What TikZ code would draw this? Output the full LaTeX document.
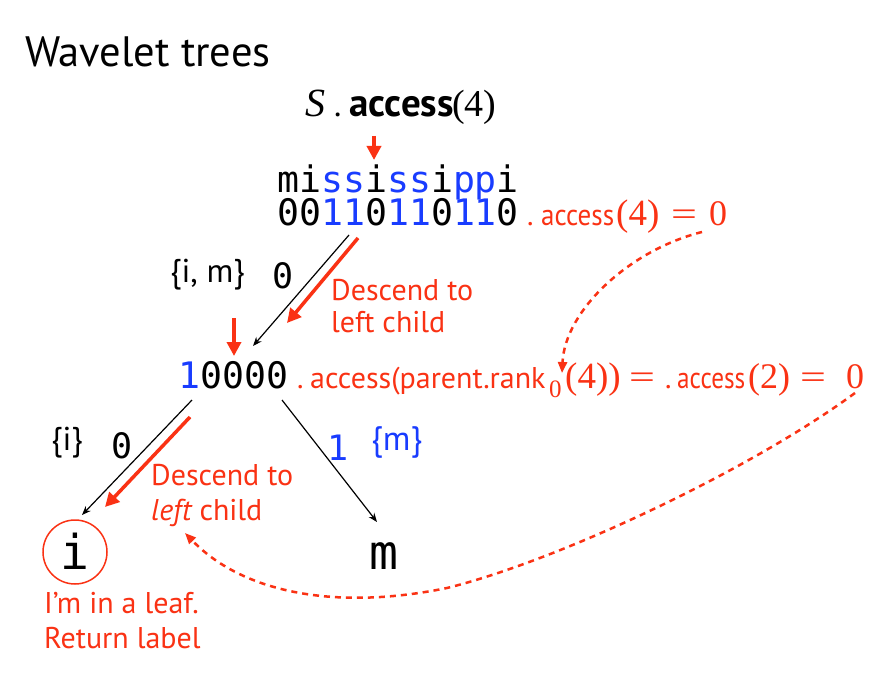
\documentclass[tikz,border=0pt]{standalone}
\usepackage{fontspec}
\setmainfont{PT Sans}
\newfontfamily\mono{DejaVu Sans Mono}
\newfontfamily\ser{Liberation Serif}
\usetikzlibrary{arrows.meta}
\definecolor{myred}{RGB}{250,50,20}
\definecolor{myblue}{RGB}{25,60,255}
\newcommand\myfs[1]{\fontsize{#1}{#1}\selectfont}
\newcommand\bl[1]{\textcolor{myblue}{#1}}
\newcommand\wideeq{\scalebox{1.35}[1]{=}}
\newcommand\accw[1]{\scalebox{#1}[1]{access}}
\begin{document}
\begin{tikzpicture}[x=1pt,y=-1pt,
  txt/.style={inner sep=0pt, anchor=base west},
  rtxt/.style={txt, text=myred},
  edge/.style={line width=1.2pt, -{Stealth[length=9pt,width=7pt]}},
  redarr/.style={myred, line width=3.5pt, -{Triangle[length=14pt,width=14pt]}},
  reddash/.style={myred, line width=2.5pt, dash pattern=on 6pt off 5pt, -{Triangle[length=11pt,width=9pt]}}]
\useasboundingbox[fill=white] (0,0) rectangle (877,679);

% title
\node[txt] (title) at (25,67) {\myfs{42.5}Wavelet trees};

% query  S . access(4)
\node[txt] (qS) at (305,117) {\myfs{40}\ser\itshape S};
\node[txt] (qdot) at (334,117) {\myfs{34}.};
\node[txt] (qacc) at (349,117) {\myfs{39}\bfseries access};
\node[txt] (qarg) at (452,117) {\myfs{38}\ser(4)};

% root
\node[txt] (rootstr) at (277,192) {\myfs{36.5}\mono mi\bl{ss}i\bl{ss}i\bl{pp}i};
\node[txt] (rootbits) at (277,225) {\myfs{36.5}\mono 00\bl{11}0\bl{11}0\bl{11}0};
% annotation 1
\node[rtxt] (a1dot) at (527,225) {\myfs{30}.};
\node[rtxt] (a1acc) at (541,225) {\myfs{30}\accw{0.9}};
\node[rtxt] (a1arg) at (616,225) {\myfs{37}\ser(4)};
\node[rtxt] (a1eq) at (671,225) {\myfs{34}\ser\wideeq};
\node[rtxt] (a1val) at (709,225) {\myfs{36}\ser 0};

% left internal node
\node[txt] (midbits) at (178,388) {\myfs{36.5}\mono\bl{1}0000};
% annotation 2
\node[rtxt] (a2dot) at (297,388) {\myfs{30}.};
\node[rtxt] (a2acc) at (310,388) {\myfs{30}access(parent.rank};
\node[rtxt] (a2sub) at (549,397) {\myfs{25}\ser 0};
\node[rtxt] (a2arg) at (565,388) {\myfs{37}\ser(4))};
\node[rtxt] (a2eq1) at (629,388) {\myfs{34}\ser\wideeq};
\node[rtxt] (a2dot2) at (665,388) {\myfs{30}.};
\node[rtxt] (a2acc2) at (677,388) {\myfs{30}\accw{0.84}};
\node[rtxt] (a2arg2) at (748,388) {\myfs{36}\ser(2)};
\node[rtxt] (a2eq2) at (800,388) {\myfs{34}\ser\wideeq};
\node[rtxt] (a2val) at (846,388) {\myfs{36}\ser 0};

% labels
\node[txt] (lab1) at (170,282) {\myfs{33}\{i, m\}};
\node[txt] (zero1) at (272,288) {\myfs{35}\mono 0};
\node[rtxt] (desc1) at (331,300) {\myfs{30}Descend to};
\node[rtxt] (desc1b) at (331,332) {\myfs{30}left child};

\node[txt] (lab2) at (51,450) {\myfs{33}\{i\}};
\node[txt] (zero2) at (111,458) {\myfs{35}\mono 0};
\node[txt] (one2) at (327,460) {\myfs{35}\mono\bl{1}};
\node[txt] (lab3) at (371,450) {\myfs{34}\bl{\{m\}}};
\node[rtxt] (desc2) at (151,485) {\myfs{30}Descend to};
\node[rtxt] (desc2b) at (151,520) {\myfs{30}\itshape left\upshape\ child};

% leaves
\node[circle, draw=myred, line width=1.5pt, minimum size=64pt, inner sep=0pt] (leafi) at (75,552) {};
\node[inner sep=0pt, anchor=base] (leafitxt) at (75,569) {\myfs{48}\mono i};
\node[txt] (leafm) at (369,569) {\myfs{48}\mono m};
\node[rtxt] (leafnote1) at (44,613) {\myfs{30}I’m in a leaf.};
\node[rtxt] (leafnote2) at (44,648) {\myfs{30}Return label};

% connector points
\coordinate (e1s) at (349,235); \coordinate (e1t) at (253,346);
\coordinate (e2s) at (192,400); \coordinate (e2t) at (82,515);
\coordinate (e3s) at (282,400); \coordinate (e3t) at (377,522);
\coordinate (r1s) at (358,238); \coordinate (r1t) at (287,323);
\coordinate (r2s) at (190,417); \coordinate (r2t) at (105,507);
\coordinate (q1s) at (374,136); \coordinate (q1t) at (374,160);
\coordinate (q2s) at (234,318); \coordinate (q2t) at (234,356);
\coordinate (d1s) at (702,232); \coordinate (d1t) at (562,373);
\coordinate (d2s) at (855,393); \coordinate (d2m) at (447,588); \coordinate (d2t) at (185,533);

% tree edges
\draw[edge] (e1s) -- (e1t);
\draw[edge] (e2s) -- (e2t);
\draw[edge] (e3s) -- (e3t);

% red arrows
\draw[redarr] (r1s) -- (r1t);
\draw[redarr] (r2s) -- (r2t);
\draw[redarr] (q1s) -- (q1t);
\draw[redarr] (q2s) -- (q2t);

% dashed curves
\draw[reddash] (d1s) .. controls (630,250) and (565,310) .. (d1t);
\draw[reddash] (d2s) .. controls (750,470) and (560,560) .. (d2m) .. controls (330,612) and (240,590) .. (d2t);
\end{tikzpicture}
\end{document}
